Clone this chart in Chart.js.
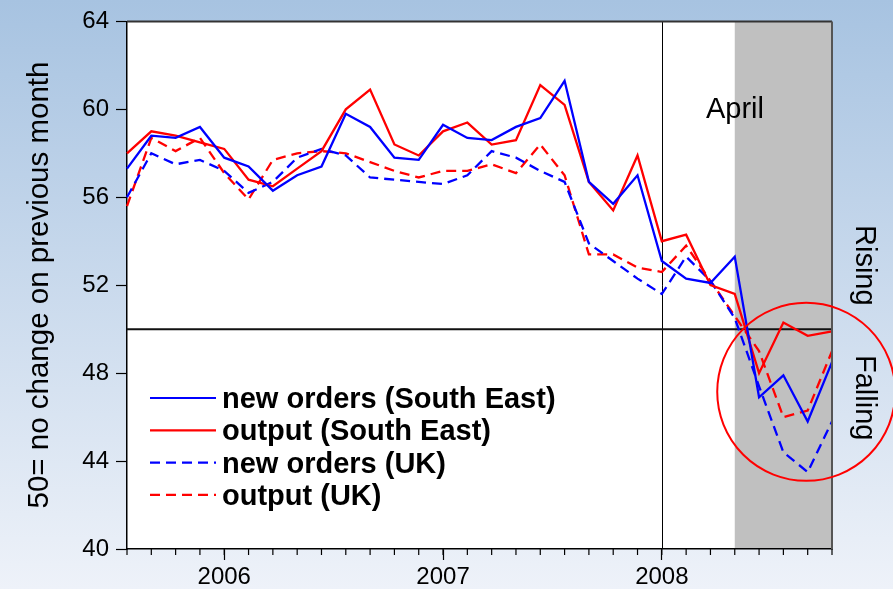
<!DOCTYPE html>
<html>
<head>
<meta charset="utf-8">
<script src="https://cdn.jsdelivr.net/npm/chart.js@4.4.1/dist/chart.umd.min.js"></script>
<style>
  html, body { margin: 0; padding: 0; background: #eef2f9; }
</style>
</head>
<body>
<canvas id="pmiChart" width="893" height="589"></canvas>
<script>
// one entry per plotted period; year names sit on their tick
const categories = ['', '', '', '', '2006', '', '', '', '', '', '', '', '', '2007', '', '', '', '', '', '', '', '', '2008', '', '', '', '', '', '', ''];

const seNewOrders = [57.3, 58.8, 58.7, 59.2, 57.8, 57.4, 56.3, 57.0, 57.4, 59.8, 59.2, 57.8, 57.7, 59.3, 58.7, 58.6, 59.2, 59.6, 61.3, 56.7, 55.7, 57.0, 53.1, 52.3, 52.1, 53.3, 46.9, 47.9, 45.8, 48.5];
const seOutput    = [58.0, 59.0, 58.8, 58.5, 58.2, 56.8, 56.5, 57.3, 58.1, 60.0, 60.9, 58.4, 57.9, 59.0, 59.4, 58.4, 58.6, 61.1, 60.2, 56.7, 55.4, 57.9, 54.0, 54.3, 52.0, 51.6, 48.0, 50.3, 49.7, 49.9];
const ukNewOrders = [56.0, 58.0, 57.5, 57.7, 57.2, 56.2, 56.7, 57.8, 58.2, 57.9, 56.9, 56.8, 56.7, 56.6, 57.0, 58.1, 57.8, 57.2, 56.7, 53.9, 53.1, 52.3, 51.6, 53.3, 52.2, 50.5, 47.4, 44.4, 43.5, 45.8];
const ukOutput    = [55.6, 58.7, 58.1, 58.7, 57.1, 55.9, 57.7, 58.0, 58.1, 58.0, 57.6, 57.2, 56.9, 57.2, 57.2, 57.5, 57.1, 58.4, 57.0, 53.4, 53.4, 52.8, 52.6, 53.8, 52.2, 50.6, 49.0, 46.0, 46.3, 49.0];

const seriesNames = ['new orders (South East)', 'output (South East)', 'new orders (UK)', 'output (UK)'];

const yMin = 40, yMax = 64, yStep = 4;
const neutral = 50;
const markerIndex = 22;   // 2008 line
const shadeFrom = 25;     // grey "April" band

const BLUE = '#0000ff', RED = '#ff0000';
const DASH = [10, 6];

const decor = {
  id: 'decor',
  beforeDraw(chart) {
    const { ctx, chartArea: a, scales: { x } } = chart;
    ctx.save();
    const g = ctx.createLinearGradient(0, 0, 0, chart.height);
    g.addColorStop(0, '#a7c3e1');
    g.addColorStop(1, '#eef2f9');
    ctx.fillStyle = g;
    ctx.fillRect(0, 0, chart.width, chart.height);
    ctx.fillStyle = '#ffffff';
    ctx.fillRect(a.left, a.top, a.width, a.height);
    const sx = x.getPixelForValue(shadeFrom);
    ctx.fillStyle = '#c0c0c0';
    ctx.fillRect(sx, a.top, a.right - sx, a.height);
    ctx.restore();
  },
  beforeDatasetsDraw(chart) {
    const { ctx, chartArea: a, scales: { x, y } } = chart;
    ctx.save();
    const vx = Math.round(x.getPixelForValue(markerIndex)) + 0.5;
    ctx.strokeStyle = '#000';
    ctx.lineWidth = 1;
    ctx.beginPath();
    ctx.moveTo(vx, a.top);
    ctx.lineTo(vx, a.bottom);
    ctx.stroke();
    const hy = y.getPixelForValue(neutral);
    ctx.lineWidth = 2;
    ctx.strokeStyle = '#111';
    ctx.beginPath();
    ctx.moveTo(a.left, hy);
    ctx.lineTo(a.right, hy);
    ctx.stroke();
    ctx.restore();
  },
  afterDraw(chart) {
    const { ctx, chartArea: a, scales: { x, y } } = chart;
    ctx.save();

    // frame top / right
    ctx.lineWidth = 2;
    ctx.strokeStyle = '#333';
    ctx.beginPath();
    ctx.moveTo(a.left, a.top);
    ctx.lineTo(a.right, a.top);
    ctx.stroke();
    ctx.strokeStyle = '#555';
    ctx.beginPath();
    ctx.moveTo(a.right, a.top);
    ctx.lineTo(a.right, a.bottom);
    ctx.stroke();

    // minor month ticks
    ctx.strokeStyle = '#000';
    ctx.lineWidth = 1.2;
    categories.forEach((c, i) => {
      const px = x.getPixelForValue(i);
      ctx.beginPath();
      ctx.moveTo(px, a.bottom);
      ctx.lineTo(px, a.bottom + 6);
      ctx.stroke();
    });

    // legend
    ctx.font = 'bold 29px "Liberation Sans", Arial, sans-serif';
    ctx.textBaseline = 'alphabetic';
    ctx.textAlign = 'left';
    chart.data.datasets.forEach((ds, i) => {
      const ly = 398 + i * 32.3;
      ctx.strokeStyle = ds.borderColor;
      ctx.lineWidth = 2.2;
      ctx.setLineDash(ds.borderDash || []);
      ctx.beginPath();
      ctx.moveTo(150, ly);
      ctx.lineTo(216, ly);
      ctx.stroke();
      ctx.setLineDash([]);
      ctx.fillStyle = '#000';
      ctx.fillText(ds.label, 222, ly + 10);
    });

    // annotations
    ctx.font = '29px "Liberation Sans", Arial, sans-serif';
    ctx.fillStyle = '#000';
    ctx.textAlign = 'center';
    ctx.fillText('April', 735, 118);

    ctx.textAlign = 'left';
    ctx.save();
    ctx.translate(856, 225);
    ctx.rotate(Math.PI / 2);
    ctx.fillText('Rising', 0, 0);
    ctx.restore();
    ctx.save();
    ctx.translate(856, 355);
    ctx.rotate(Math.PI / 2);
    ctx.fillText('Falling', 0, 0);
    ctx.restore();

    // y title
    ctx.save();
    ctx.font = '29.5px "Liberation Sans", Arial, sans-serif';
    ctx.translate(40, 285);
    ctx.rotate(-Math.PI / 2);
    ctx.textAlign = 'center';
    ctx.textBaseline = 'middle';
    ctx.fillText('50= no change on previous month', 0, 0);
    ctx.restore();

    // red circle round the latest readings
    const cx = x.getPixelForValue(27.94);
    const cy = y.getPixelForValue(47.15);
    ctx.strokeStyle = RED;
    ctx.lineWidth = 2;
    ctx.beginPath();
    ctx.arc(cx, cy, 89, 0, Math.PI * 2);
    ctx.stroke();

    ctx.restore();
  }
};

new Chart(document.getElementById('pmiChart'), {
  type: 'line',
  data: {
    labels: categories,
    datasets: [
      { label: seriesNames[0], data: seNewOrders, borderColor: BLUE },
      { label: seriesNames[1], data: seOutput, borderColor: RED },
      { label: seriesNames[2], data: ukNewOrders, borderColor: BLUE, borderDash: DASH },
      { label: seriesNames[3], data: ukOutput, borderColor: RED, borderDash: DASH }
    ].map(d => Object.assign({ borderWidth: 2.3, pointRadius: 0, tension: 0, fill: false }, d))
  },
  options: {
    responsive: false,
    animation: false,
    layout: { padding: { left: 0, right: 61, top: 21, bottom: 0 } },
    plugins: { legend: { display: false }, tooltip: { enabled: false } },
    scales: {
      x: {
        type: 'category',
        offset: false,
        afterFit: s => { s.height = 40; },
        grid: {
          drawOnChartArea: false,
          tickLength: 11,
          tickWidth: 1.2,
          tickColor: c => categories[c.index] ? '#000' : 'rgba(0,0,0,0)'
        },
        border: { display: true, color: '#000', width: 1.5 },
        ticks: {
          autoSkip: false,
          maxRotation: 0,
          padding: 3,
          color: '#000',
          font: { family: '"Liberation Sans", Arial, sans-serif', size: 24 },
          callback: (v, i) => categories[i]
        }
      },
      y: {
        min: yMin,
        max: yMax,
        afterFit: s => { s.width = 127; },
        grid: { drawOnChartArea: false, tickLength: 11, color: '#000', tickWidth: 1.2 },
        border: { display: true, color: '#000', width: 1.5 },
        ticks: {
          stepSize: yStep,
          padding: 7,
          color: '#000',
          font: { family: '"Liberation Sans", Arial, sans-serif', size: 24 }
        }
      }
    }
  },
  plugins: [decor]
});
</script>
</body>
</html>
